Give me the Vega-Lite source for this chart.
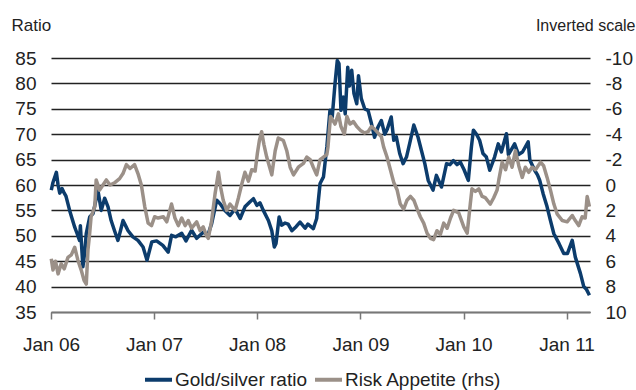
{
  "$schema": "https://vega.github.io/schema/vega-lite/v6.json",
  "width": 539,
  "height": 254,
  "autosize": "none",
  "padding": {"left": 51, "top": 58, "right": 46, "bottom": 78},
  "background": "white",
  "config": {
    "view": {"stroke": null},
    "font": "Liberation Sans",
    "axis": {"labelFont": "Liberation Sans", "titleFont": "Liberation Sans", "labelColor": "#222", "titleColor": "#222"}
  },
  "datasets": {
    "gs": [
      {"date": "2006-01-02", "v": 59.0}, {"date": "2006-01-08", "v": 60.5}, {"date": "2006-01-20", "v": 62.5}, {"date": "2006-01-26", "v": 60.0},
      {"date": "2006-02-01", "v": 58.4}, {"date": "2006-02-09", "v": 59.3}, {"date": "2006-02-16", "v": 58.5}, {"date": "2006-02-23", "v": 57.8},
      {"date": "2006-03-08", "v": 55.0}, {"date": "2006-03-16", "v": 53.5}, {"date": "2006-03-26", "v": 51.7}, {"date": "2006-04-03", "v": 50.5},
      {"date": "2006-04-12", "v": 49.1}, {"date": "2006-04-15", "v": 52.0}, {"date": "2006-04-24", "v": 43.9}, {"date": "2006-05-01", "v": 47.0},
      {"date": "2006-05-06", "v": 50.5}, {"date": "2006-05-18", "v": 53.7}, {"date": "2006-05-30", "v": 54.4}, {"date": "2006-06-07", "v": 56.5},
      {"date": "2006-06-16", "v": 59.0}, {"date": "2006-06-28", "v": 55.0}, {"date": "2006-07-10", "v": 57.4}, {"date": "2006-07-22", "v": 55.7},
      {"date": "2006-08-02", "v": 53.0}, {"date": "2006-08-14", "v": 51.0}, {"date": "2006-08-26", "v": 49.1}, {"date": "2006-09-04", "v": 51.0},
      {"date": "2006-09-13", "v": 53.0}, {"date": "2006-09-22", "v": 52.0}, {"date": "2006-10-01", "v": 51.0}, {"date": "2006-10-18", "v": 49.8},
      {"date": "2006-11-05", "v": 49.1}, {"date": "2006-11-23", "v": 47.8}, {"date": "2006-12-07", "v": 45.2}, {"date": "2006-12-24", "v": 48.8},
      {"date": "2007-01-10", "v": 49.0}, {"date": "2007-02-01", "v": 48.1}, {"date": "2007-02-20", "v": 46.8}, {"date": "2007-03-04", "v": 50.1},
      {"date": "2007-03-19", "v": 49.8}, {"date": "2007-04-09", "v": 50.5}, {"date": "2007-04-24", "v": 49.0}, {"date": "2007-05-14", "v": 51.1},
      {"date": "2007-06-01", "v": 49.5}, {"date": "2007-06-24", "v": 50.7}, {"date": "2007-07-11", "v": 50.2}, {"date": "2007-07-24", "v": 52.4},
      {"date": "2007-08-11", "v": 57.0}, {"date": "2007-08-23", "v": 56.3}, {"date": "2007-09-09", "v": 55.0}, {"date": "2007-09-27", "v": 54.0},
      {"date": "2007-10-15", "v": 55.3}, {"date": "2007-11-02", "v": 53.4}, {"date": "2007-11-19", "v": 55.7}, {"date": "2007-12-07", "v": 56.7},
      {"date": "2007-12-19", "v": 57.3}, {"date": "2007-12-31", "v": 56.0}, {"date": "2008-01-11", "v": 56.5}, {"date": "2008-01-23", "v": 55.0},
      {"date": "2008-02-10", "v": 53.0}, {"date": "2008-02-22", "v": 51.0}, {"date": "2008-03-02", "v": 47.8}, {"date": "2008-03-08", "v": 48.5},
      {"date": "2008-03-19", "v": 53.7}, {"date": "2008-03-28", "v": 52.1}, {"date": "2008-04-09", "v": 52.5}, {"date": "2008-04-20", "v": 52.3},
      {"date": "2008-05-03", "v": 51.0}, {"date": "2008-05-18", "v": 51.8}, {"date": "2008-06-01", "v": 52.7}, {"date": "2008-06-19", "v": 51.5},
      {"date": "2008-06-29", "v": 52.3}, {"date": "2008-07-18", "v": 51.4}, {"date": "2008-07-30", "v": 53.4}, {"date": "2008-08-05", "v": 57.0},
      {"date": "2008-08-11", "v": 60.3}, {"date": "2008-08-23", "v": 61.6}, {"date": "2008-09-04", "v": 67.5}, {"date": "2008-09-15", "v": 74.7},
      {"date": "2008-09-23", "v": 73.4}, {"date": "2008-10-03", "v": 80.0}, {"date": "2008-10-11", "v": 84.5}, {"date": "2008-10-17", "v": 83.9},
      {"date": "2008-10-24", "v": 74.7}, {"date": "2008-11-02", "v": 77.3}, {"date": "2008-11-08", "v": 74.0}, {"date": "2008-11-17", "v": 83.2},
      {"date": "2008-11-23", "v": 79.5}, {"date": "2008-12-01", "v": 82.6}, {"date": "2008-12-09", "v": 78.0}, {"date": "2008-12-19", "v": 76.0},
      {"date": "2008-12-25", "v": 81.5}, {"date": "2009-01-04", "v": 77.0}, {"date": "2009-01-16", "v": 75.0}, {"date": "2009-01-28", "v": 74.7},
      {"date": "2009-02-09", "v": 72.1}, {"date": "2009-02-20", "v": 69.4}, {"date": "2009-03-04", "v": 71.4}, {"date": "2009-03-16", "v": 72.7},
      {"date": "2009-03-28", "v": 70.0}, {"date": "2009-04-06", "v": 71.0}, {"date": "2009-04-20", "v": 73.4}, {"date": "2009-04-29", "v": 68.8},
      {"date": "2009-05-08", "v": 69.5}, {"date": "2009-05-20", "v": 66.2}, {"date": "2009-06-01", "v": 64.2}, {"date": "2009-06-13", "v": 65.5},
      {"date": "2009-06-24", "v": 68.1}, {"date": "2009-07-09", "v": 71.8}, {"date": "2009-07-24", "v": 69.4}, {"date": "2009-08-05", "v": 66.8},
      {"date": "2009-08-17", "v": 64.2}, {"date": "2009-08-29", "v": 60.9}, {"date": "2009-09-15", "v": 59.0}, {"date": "2009-09-27", "v": 61.9},
      {"date": "2009-10-15", "v": 59.6}, {"date": "2009-11-02", "v": 64.2}, {"date": "2009-11-14", "v": 64.0}, {"date": "2009-11-26", "v": 64.8},
      {"date": "2009-12-09", "v": 64.0}, {"date": "2009-12-21", "v": 64.5}, {"date": "2010-01-03", "v": 63.0}, {"date": "2010-01-18", "v": 60.9},
      {"date": "2010-01-29", "v": 67.5}, {"date": "2010-02-05", "v": 70.8}, {"date": "2010-02-16", "v": 70.0}, {"date": "2010-02-27", "v": 68.8},
      {"date": "2010-03-11", "v": 66.2}, {"date": "2010-03-23", "v": 65.5}, {"date": "2010-04-04", "v": 62.9}, {"date": "2010-04-21", "v": 65.5},
      {"date": "2010-05-04", "v": 68.1}, {"date": "2010-05-15", "v": 66.5}, {"date": "2010-06-02", "v": 70.1}, {"date": "2010-06-09", "v": 66.0},
      {"date": "2010-06-20", "v": 67.0}, {"date": "2010-07-01", "v": 68.1}, {"date": "2010-07-15", "v": 66.0}, {"date": "2010-07-29", "v": 66.5},
      {"date": "2010-08-18", "v": 68.5}, {"date": "2010-08-24", "v": 64.9}, {"date": "2010-09-10", "v": 62.9}, {"date": "2010-09-20", "v": 62.0},
      {"date": "2010-09-28", "v": 60.9}, {"date": "2010-10-10", "v": 58.3}, {"date": "2010-10-24", "v": 55.7}, {"date": "2010-11-05", "v": 53.0},
      {"date": "2010-11-17", "v": 50.4}, {"date": "2010-12-05", "v": 48.5}, {"date": "2010-12-22", "v": 46.5}, {"date": "2011-01-04", "v": 46.5},
      {"date": "2011-01-21", "v": 49.1}, {"date": "2011-02-01", "v": 45.8}, {"date": "2011-02-19", "v": 42.6}, {"date": "2011-03-03", "v": 40.0},
      {"date": "2011-03-12", "v": 39.5}, {"date": "2011-03-23", "v": 38.3}
    ],
    "ra": [
      {"date": "2006-01-02", "v": 5.8}, {"date": "2006-01-08", "v": 6.7}, {"date": "2006-01-17", "v": 6.0}, {"date": "2006-01-26", "v": 7.0},
      {"date": "2006-02-06", "v": 6.2}, {"date": "2006-02-17", "v": 6.6}, {"date": "2006-03-02", "v": 5.7}, {"date": "2006-03-14", "v": 5.5},
      {"date": "2006-03-26", "v": 4.9}, {"date": "2006-04-06", "v": 5.9}, {"date": "2006-04-18", "v": 6.7}, {"date": "2006-04-28", "v": 7.5},
      {"date": "2006-05-06", "v": 7.8}, {"date": "2006-05-12", "v": 5.1}, {"date": "2006-05-18", "v": 3.8}, {"date": "2006-05-23", "v": 2.5},
      {"date": "2006-06-05", "v": 1.7}, {"date": "2006-06-10", "v": -0.4}, {"date": "2006-06-22", "v": 0.4}, {"date": "2006-07-04", "v": 0.0},
      {"date": "2006-07-16", "v": -0.4}, {"date": "2006-07-29", "v": 0.0}, {"date": "2006-08-16", "v": -0.2}, {"date": "2006-09-01", "v": -0.5},
      {"date": "2006-09-13", "v": -0.9}, {"date": "2006-09-25", "v": -1.6}, {"date": "2006-10-08", "v": -1.3}, {"date": "2006-10-24", "v": -1.6},
      {"date": "2006-11-05", "v": -0.9}, {"date": "2006-11-17", "v": 0.0}, {"date": "2006-11-29", "v": 1.7}, {"date": "2006-12-11", "v": 3.0},
      {"date": "2006-12-23", "v": 3.2}, {"date": "2007-01-03", "v": 2.5}, {"date": "2007-01-15", "v": 2.6}, {"date": "2007-02-03", "v": 2.5},
      {"date": "2007-02-15", "v": 2.9}, {"date": "2007-03-04", "v": 1.5}, {"date": "2007-03-16", "v": 2.6}, {"date": "2007-03-28", "v": 3.2},
      {"date": "2007-04-09", "v": 2.6}, {"date": "2007-04-21", "v": 3.2}, {"date": "2007-05-02", "v": 2.8}, {"date": "2007-05-14", "v": 3.4},
      {"date": "2007-06-01", "v": 2.9}, {"date": "2007-06-13", "v": 3.6}, {"date": "2007-06-24", "v": 3.3}, {"date": "2007-07-06", "v": 4.0},
      {"date": "2007-07-12", "v": 4.2}, {"date": "2007-07-24", "v": 2.8}, {"date": "2007-08-05", "v": 0.7}, {"date": "2007-08-17", "v": -1.0},
      {"date": "2007-08-25", "v": 0.2}, {"date": "2007-09-03", "v": 1.2}, {"date": "2007-09-15", "v": 2.0}, {"date": "2007-09-27", "v": 1.5},
      {"date": "2007-10-15", "v": 2.0}, {"date": "2007-10-27", "v": 1.0}, {"date": "2007-11-08", "v": -0.1}, {"date": "2007-11-19", "v": -1.0},
      {"date": "2007-12-01", "v": -0.3}, {"date": "2007-12-13", "v": -1.2}, {"date": "2007-12-25", "v": -1.1}, {"date": "2008-01-02", "v": -2.5},
      {"date": "2008-01-09", "v": -3.5}, {"date": "2008-01-17", "v": -4.2}, {"date": "2008-01-25", "v": -3.2}, {"date": "2008-02-04", "v": -2.2},
      {"date": "2008-02-22", "v": -0.8}, {"date": "2008-03-05", "v": -2.7}, {"date": "2008-03-16", "v": -3.7}, {"date": "2008-04-03", "v": -3.5},
      {"date": "2008-04-15", "v": -2.7}, {"date": "2008-04-27", "v": -1.4}, {"date": "2008-05-09", "v": -0.8}, {"date": "2008-05-26", "v": -1.4},
      {"date": "2008-06-13", "v": -1.7}, {"date": "2008-06-25", "v": -2.2}, {"date": "2008-07-07", "v": -2.0}, {"date": "2008-07-18", "v": -1.4},
      {"date": "2008-07-30", "v": -0.8}, {"date": "2008-08-11", "v": -2.0}, {"date": "2008-08-23", "v": -2.2}, {"date": "2008-09-04", "v": -2.4},
      {"date": "2008-09-08", "v": -3.0}, {"date": "2008-09-17", "v": -5.4}, {"date": "2008-10-03", "v": -4.8}, {"date": "2008-10-15", "v": -5.6},
      {"date": "2008-10-24", "v": -4.6}, {"date": "2008-11-05", "v": -4.0}, {"date": "2008-11-14", "v": -5.4}, {"date": "2008-11-25", "v": -4.8},
      {"date": "2008-12-07", "v": -5.0}, {"date": "2008-12-19", "v": -4.6}, {"date": "2009-01-01", "v": -4.3}, {"date": "2009-01-16", "v": -4.1},
      {"date": "2009-01-28", "v": -4.2}, {"date": "2009-02-09", "v": -4.6}, {"date": "2009-02-20", "v": -4.4}, {"date": "2009-03-04", "v": -4.1},
      {"date": "2009-03-16", "v": -3.8}, {"date": "2009-03-24", "v": -3.0}, {"date": "2009-04-05", "v": -2.2}, {"date": "2009-04-17", "v": -1.2},
      {"date": "2009-04-29", "v": -0.2}, {"date": "2009-05-11", "v": 0.4}, {"date": "2009-05-22", "v": 1.5}, {"date": "2009-06-03", "v": 1.9},
      {"date": "2009-06-15", "v": 1.2}, {"date": "2009-06-27", "v": 0.9}, {"date": "2009-07-09", "v": 1.2}, {"date": "2009-07-21", "v": 1.9},
      {"date": "2009-08-01", "v": 2.5}, {"date": "2009-08-13", "v": 3.0}, {"date": "2009-08-25", "v": 3.8}, {"date": "2009-09-06", "v": 4.2},
      {"date": "2009-09-17", "v": 4.3}, {"date": "2009-09-29", "v": 3.6}, {"date": "2009-10-11", "v": 3.9}, {"date": "2009-10-23", "v": 3.0},
      {"date": "2009-11-04", "v": 3.4}, {"date": "2009-11-16", "v": 2.6}, {"date": "2009-11-27", "v": 2.0}, {"date": "2009-12-15", "v": 2.2},
      {"date": "2010-01-02", "v": 3.3}, {"date": "2010-01-14", "v": 3.8}, {"date": "2010-01-25", "v": 1.5}, {"date": "2010-01-31", "v": 0.3},
      {"date": "2010-02-12", "v": 0.5}, {"date": "2010-02-24", "v": 0.3}, {"date": "2010-03-08", "v": 0.9}, {"date": "2010-03-19", "v": 1.0},
      {"date": "2010-04-06", "v": 1.5}, {"date": "2010-04-18", "v": 1.0}, {"date": "2010-04-30", "v": 0.4}, {"date": "2010-05-06", "v": -0.4},
      {"date": "2010-05-18", "v": -1.8}, {"date": "2010-05-30", "v": -1.2}, {"date": "2010-06-10", "v": -2.2}, {"date": "2010-06-22", "v": -1.4},
      {"date": "2010-07-04", "v": -2.7}, {"date": "2010-07-16", "v": -1.5}, {"date": "2010-07-28", "v": -0.6}, {"date": "2010-08-08", "v": -1.4},
      {"date": "2010-08-20", "v": -1.0}, {"date": "2010-09-01", "v": -1.4}, {"date": "2010-09-13", "v": -1.2}, {"date": "2010-10-01", "v": -1.8},
      {"date": "2010-10-12", "v": -1.5}, {"date": "2010-10-24", "v": -0.6}, {"date": "2010-11-05", "v": 0.4}, {"date": "2010-11-17", "v": 1.5},
      {"date": "2010-11-29", "v": 2.3}, {"date": "2010-12-17", "v": 2.8}, {"date": "2011-01-03", "v": 2.9}, {"date": "2011-01-21", "v": 2.4},
      {"date": "2011-02-01", "v": 2.8}, {"date": "2011-02-13", "v": 3.2}, {"date": "2011-02-25", "v": 2.5}, {"date": "2011-03-08", "v": 2.6},
      {"date": "2011-03-15", "v": 0.9}, {"date": "2011-03-23", "v": 1.7}
    ]
  },
  "layer": [
    {
      "data": {"name": "gs"},
      "transform": [{"calculate": "'Gold/silver ratio'", "as": "series"}],
      "mark": {"type": "line", "strokeWidth": 3.5, "strokeJoin": "round", "strokeCap": "butt"},
      "encoding": {
        "x": {
          "field": "date", "type": "temporal",
          "scale": {"domain": ["2006-01-01", "2011-03-25"]},
          "axis": {
            "title": null, "format": "%b %y", "values": ["2006-01-01", "2007-01-01", "2008-01-01", "2009-01-01", "2010-01-01", "2011-01-01"],
            "grid": false, "domainColor": "#777", "domainWidth": 1.5, "tickColor": "#777", "tickWidth": 1.5, "tickSize": 7,
            "labelFontSize": 19, "labelPadding": 16, "labelColor": "#222", "labelFlush": false, "labelOverlap": false
          }
        },
        "y": {
          "field": "v", "type": "quantitative",
          "scale": {"domain": [35, 85], "nice": false, "zero": false},
          "axis": {
            "title": "Ratio", "titleAngle": 0, "titleX": -40, "titleY": -28, "titleAlign": "left", "titleBaseline": "alphabetic",
            "titleFontSize": 17, "titleFontWeight": "normal",
            "values": [35, 40, 45, 50, 55, 60, 65, 70, 75, 80, 85],
            "grid": true, "gridColor": "#222", "gridWidth": 1.3,
            "domain": false, "ticks": false, "labelFontSize": 19, "labelPadding": 15
          }
        },
        "color": {
          "field": "series", "type": "nominal",
          "scale": {"domain": ["Gold/silver ratio", "Risk Appetite (rhs)"], "range": ["#0c3c6c", "#9b9088"]},
          "legend": {
            "title": null, "orient": "none", "direction": "horizontal", "legendX": 92, "legendY": 306,
            "symbolType": "stroke", "symbolSize": 729, "symbolStrokeWidth": 4, "labelFontSize": 19, "labelColor": "#222",
            "labelOffset": 1, "columnPadding": 0
          }
        }
      }
    },
    {
      "data": {"name": "ra"},
      "transform": [{"calculate": "'Risk Appetite (rhs)'", "as": "series"}],
      "mark": {"type": "line", "strokeWidth": 3.5, "strokeJoin": "round", "strokeCap": "butt"},
      "encoding": {
        "x": {"field": "date", "type": "temporal"},
        "y": {
          "field": "v", "type": "quantitative",
          "scale": {"domain": [-10, 10], "reverse": true, "nice": false, "zero": false},
          "axis": {
            "orient": "right", "title": "Inverted scale", "titleAngle": 0, "titleX": 45, "titleY": -28, "titleAlign": "right", "titleBaseline": "alphabetic",
            "titleFontSize": 16, "titleFontWeight": "normal",
            "values": [-10, -8, -6, -4, -2, 0, 2, 4, 6, 8, 10],
            "labelExpr": "'' + datum.value",
            "grid": false, "domain": false, "ticks": false, "labelFontSize": 19, "labelPadding": 15
          }
        },
        "color": {"field": "series", "type": "nominal"}
      }
    }
  ],
  "resolve": {"scale": {"y": "independent"}}
}
